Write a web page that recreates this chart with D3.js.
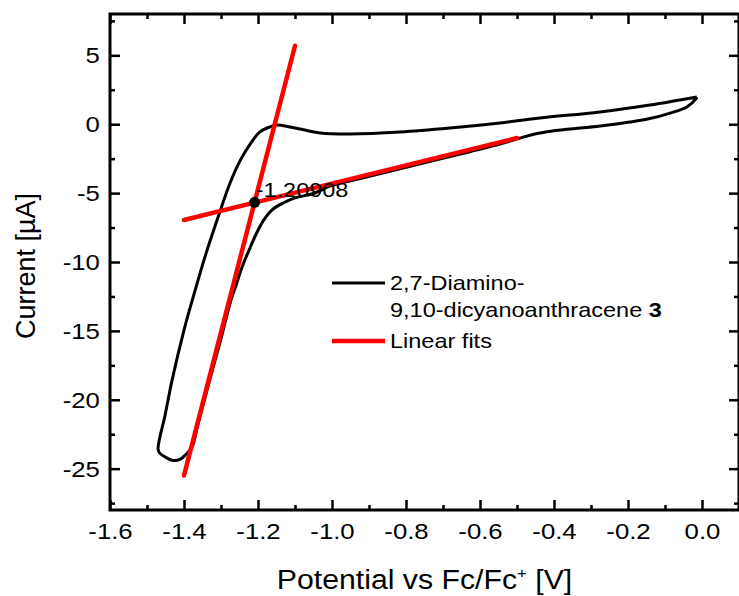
<!DOCTYPE html>
<html>
<head>
<meta charset="utf-8">
<script src="https://cdn.jsdelivr.net/npm/d3@7.9.0/dist/d3.min.js"></script>
<style>
  body { margin: 0; background: #fff; }
  svg { display: block; font-family: Arial, "Liberation Sans", sans-serif; }
</style>
</head>
<body>
<svg id="chart" width="739" height="596"></svg>
<script>
// cyclic voltammogram (V vs Fc/Fc+, µA)
const potential = [
  -0.014, -0.06, -0.141, -0.276, -0.438, -0.546, -0.681, -0.816, -0.951, -1.032,
  -1.086, -1.114, -1.149, -1.168, -1.195, -1.219, -1.249, -1.276, -1.308, -1.341,
  -1.370, -1.400, -1.432, -1.451, -1.470, -1.465, -1.449, -1.430, -1.411, -1.395,
  -1.378, -1.364, -1.334, -1.301, -1.273, -1.259, -1.243, -1.224, -1.205, -1.186,
  -1.162, -1.132, -1.100, -1.046, -1.005, -0.924, -0.816, -0.681, -0.546, -0.438,
  -0.276, -0.195, -0.141, -0.086, -0.041, -0.016, -0.014
];
const current = [
  1.97, 1.76, 1.39, 0.89, 0.45, 0.09, -0.28, -0.57, -0.71, -0.64,
  -0.35, -0.20, -0.06, -0.20, -0.56, -1.36, -2.68, -4.30, -6.75, -9.43,
  -12.06, -14.94, -18.56, -21.1, -23.6, -23.89, -24.18, -24.4, -24.33, -23.97,
  -23.42, -21.97, -18.92, -15.66, -12.76, -11.67, -10.36, -9.13, -7.97, -7.02,
  -6.22, -5.72, -5.35, -4.99, -4.48, -3.94, -3.23, -2.34, -1.43, -0.64,
  -0.13, 0.16, 0.41, 0.81, 1.25, 1.85, 1.97
];

// the two linear fits (end points)
const steepFitV = [-1.40, -1.10];
const steepFitI = [-25.5, 5.7];
const flatFitV = [-1.40, -0.50];
const flatFitI = [-6.95, -1.0];

// onset point
const onsetV = -1.20908;
const onsetI = -5.67;
const onsetLabel = "-1.20908";

const xTicks = [-1.6, -1.4, -1.2, -1.0, -0.8, -0.6, -0.4, -0.2, 0.0];
const xMinor = [-1.5, -1.3, -1.1, -0.9, -0.7, -0.5, -0.3, -0.1];
const yTicks = [-25, -20, -15, -10, -5, 0, 5];
const yMinor = [-27.5, -22.5, -17.5, -12.5, -7.5, -2.5, 2.5, 7.5];

const seriesNames = ["2,7-Diamino-", "9,10-dicyanoanthracene ", "Linear fits"];

const mLeft = 110, mRight = 739, mTop = 14, mBottom = 510;
const sx = 1.12; // the original text is a bit wide

const svg = d3.select('#chart');
const x = d3.scaleLinear().domain([-1.6, 0.1]).range([mLeft, mRight]);
const y = d3.scaleLinear().domain([-28, 8]).range([mBottom, mTop]);

// axes with inward ticks
function styleAxis(g) {
  g.select('.domain').remove();
  g.selectAll('.tick line').attr('stroke', '#000').attr('stroke-width', 2.5);
  g.selectAll('.tick text')
    .attr('fill', '#000')
    .attr('transform', `scale(${sx},1)`)
    .style('font-size', '23px')
    .style('font-family', 'Arial, "Liberation Sans", sans-serif');
}

svg.append('g').attr('transform', `translate(0,${mBottom})`)
  .call(d3.axisBottom(x).tickValues(xTicks).tickFormat(d => d.toFixed(1))
    .tickSizeInner(-10).tickSizeOuter(0).tickPadding(13))
  .call(styleAxis);
svg.append('g').attr('transform', `translate(0,${mBottom})`)
  .call(d3.axisBottom(x).tickValues(xMinor).tickFormat('')
    .tickSizeInner(-5).tickSizeOuter(0))
  .call(styleAxis);
svg.append('g').attr('transform', `translate(0,${mTop})`)
  .call(d3.axisTop(x).tickValues(xTicks).tickFormat('').tickSizeInner(-10).tickSizeOuter(0))
  .call(styleAxis);
svg.append('g').attr('transform', `translate(0,${mTop})`)
  .call(d3.axisTop(x).tickValues(xMinor).tickFormat('').tickSizeInner(-5).tickSizeOuter(0))
  .call(styleAxis);

svg.append('g').attr('transform', `translate(${mLeft},0)`)
  .call(d3.axisLeft(y).tickValues(yTicks).tickFormat(d => String(d))
    .tickSizeInner(-10).tickSizeOuter(0).tickPadding(9))
  .call(styleAxis);
svg.append('g').attr('transform', `translate(${mLeft},0)`)
  .call(d3.axisLeft(y).tickValues(yMinor).tickFormat('').tickSizeInner(-5).tickSizeOuter(0))
  .call(styleAxis);
svg.append('g').attr('transform', `translate(${mRight},0)`)
  .call(d3.axisRight(y).tickValues(yTicks).tickFormat('').tickSizeInner(-10).tickSizeOuter(0))
  .call(styleAxis);
svg.append('g').attr('transform', `translate(${mRight},0)`)
  .call(d3.axisRight(y).tickValues(yMinor).tickFormat('').tickSizeInner(-5).tickSizeOuter(0))
  .call(styleAxis);

// frame
svg.append('rect')
  .attr('x', mLeft).attr('y', mTop)
  .attr('width', mRight - mLeft).attr('height', mBottom - mTop)
  .attr('fill', 'none').attr('stroke', '#000').attr('stroke-width', 3);

// CV curve
const cvData = potential.map((v, i) => [v, current[i]]);
const line = d3.line().x(d => x(d[0])).y(d => y(d[1])).curve(d3.curveCatmullRom.alpha(0.5));
svg.append('path')
  .attr('d', line(cvData))
  .attr('fill', 'none').attr('stroke', '#000')
  .attr('stroke-width', 3).attr('stroke-linejoin', 'round');

// fits
const straight = d3.line().x(d => x(d[0])).y(d => y(d[1]));
[[steepFitV, steepFitI], [flatFitV, flatFitI]].forEach(([vs, is]) => {
  svg.append('path')
    .attr('d', straight(vs.map((v, i) => [v, is[i]])))
    .attr('fill', 'none').attr('stroke', '#ff0000')
    .attr('stroke-width', 4.5).attr('stroke-linecap', 'round');
});

// text placed at (px,py), stretched sideways
function label(parent, px, py, size) {
  return parent.append('text')
    .attr('transform', `translate(${px},${py}) scale(${sx},1)`)
    .style('font-size', size + 'px');
}

// onset marker
svg.append('circle')
  .attr('cx', x(onsetV)).attr('cy', y(onsetI)).attr('r', 5.5).attr('fill', '#000');
label(svg, x(onsetV) + 1, y(onsetI) - 5, 21).text(onsetLabel);

// legend
const legend = svg.append('g').attr('transform', 'translate(332,0)');
legend.append('line').attr('x1', 0).attr('x2', 53).attr('y1', 283).attr('y2', 283)
  .attr('stroke', '#000').attr('stroke-width', 3);
label(legend, 58, 290, 21).text(seriesNames[0]);
const l2 = label(legend, 58, 317, 21);
l2.append('tspan').text(seriesNames[1]);
l2.append('tspan').attr('font-weight', 'bold').text('3');
legend.append('line').attr('x1', 0).attr('x2', 53).attr('y1', 341).attr('y2', 341)
  .attr('stroke', '#ff0000').attr('stroke-width', 4.5);
label(legend, 58, 348, 21).text(seriesNames[2]);

// axis titles
const xt = label(svg, (mLeft + mRight) / 2, 589, 27).attr('text-anchor', 'middle');
xt.append('tspan').text('Potential vs Fc/Fc');
xt.append('tspan').attr('dy', -11).style('font-size', '15px').text('+');
xt.append('tspan').attr('dy', 11).text(' [V]');

svg.append('text')
  .attr('transform', 'translate(35,266) rotate(-90)')
  .attr('text-anchor', 'middle').style('font-size', '27px')
  .text('Current [µA]');
</script>
</body>
</html>
